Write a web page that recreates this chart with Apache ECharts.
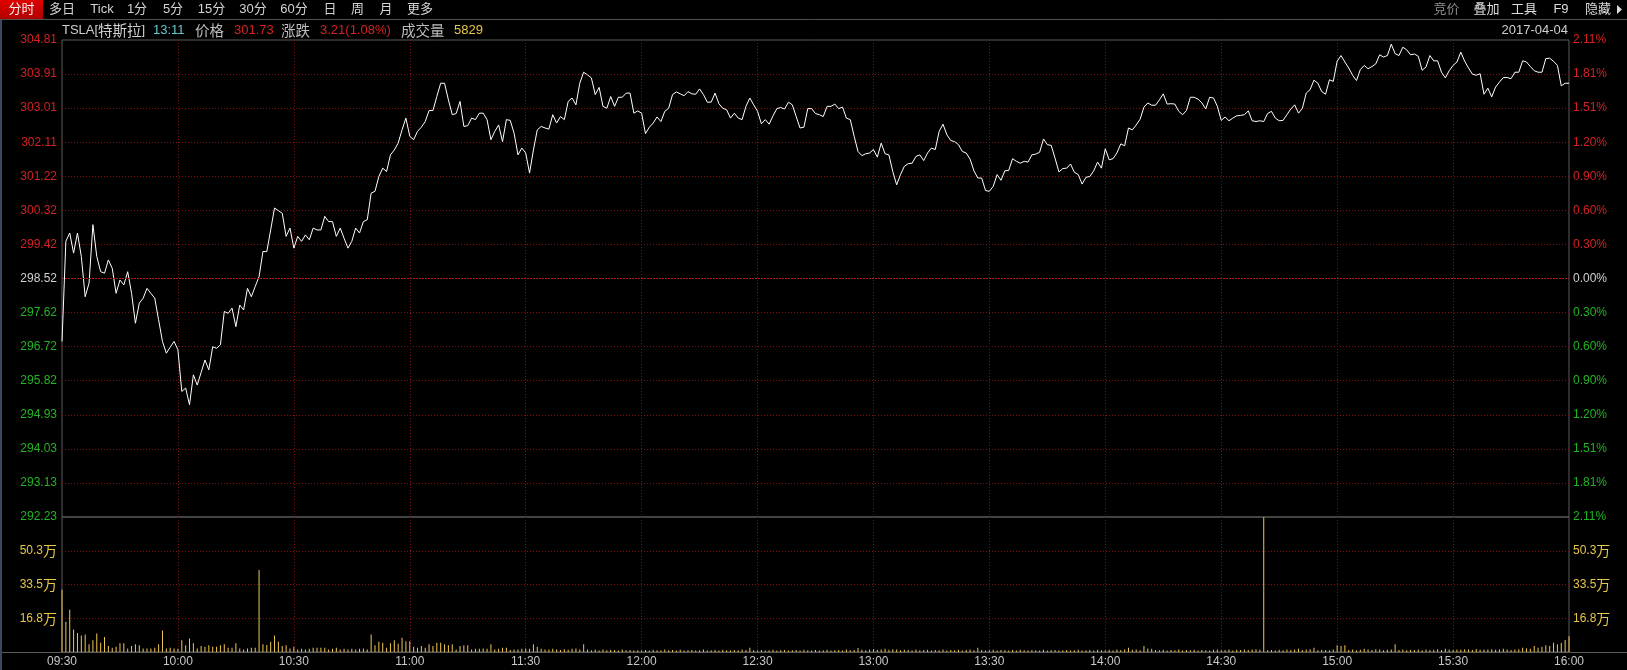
<!DOCTYPE html>
<html>
<head>
<meta charset="utf-8">
<script src="https://cdn.jsdelivr.net/npm/echarts@6/dist/echarts.min.js"></script>
<style>
html,body{margin:0;padding:0;background:#000;}
#c{width:1627px;height:670px;}
</style>
</head>
<body>
<div id="c"></div>
<script>
// ---------------- data ----------------
const prevClose = 298.52;
const priceStep = 0.8985714;          // one grid row of price
const volStep = 16.77;                // 万 per volume grid row

// minute-by-minute price, 09:30 .. 16:00 (391 minutes)
const prices = [
296.86,299.50,299.72,299.19,299.72,299.10,298.04,298.40,299.94,299.10,
298.70,298.66,299.01,298.79,298.13,298.48,298.35,298.70,298.13,297.34,
297.87,298.00,298.26,298.13,298.00,297.43,296.86,296.55,296.71,296.86,
296.64,295.54,295.63,295.19,295.98,295.71,296.04,296.37,296.11,296.72,
296.68,296.77,297.65,297.60,297.74,297.25,297.82,297.69,298.26,298.04,
298.31,298.57,299.23,299.23,299.80,300.38,300.31,300.24,299.63,299.85,
299.32,299.63,299.50,299.67,299.54,299.85,299.80,299.80,300.16,300.02,
300.02,299.63,299.85,299.58,299.32,299.50,299.85,299.72,300.02,300.07,
300.77,300.82,301.21,301.43,301.34,301.78,301.91,302.09,302.44,302.75,
302.27,302.18,302.40,302.51,302.66,302.95,302.95,303.32,303.67,303.67,
303.23,302.84,302.87,303.19,302.53,302.55,302.75,302.71,302.88,302.88,
302.71,302.18,302.40,302.57,302.13,302.71,302.69,302.35,301.78,301.96,
301.83,301.30,301.91,302.44,302.53,302.49,302.46,302.84,302.62,302.79,
302.71,303.19,303.28,303.10,303.67,303.96,303.89,303.81,303.37,303.56,
303.06,303.01,303.32,303.06,303.30,303.30,303.41,303.41,302.88,302.94,
302.88,302.34,302.51,302.62,302.78,302.66,302.93,303.01,303.37,303.44,
303.39,303.34,303.45,303.39,303.38,303.52,303.37,303.17,303.17,303.41,
303.13,303.01,302.97,302.75,302.88,302.75,302.71,303.06,303.28,303.10,
302.93,302.60,302.71,302.59,302.81,303.00,303.03,302.99,303.17,303.10,
302.79,302.49,302.51,303.00,303.00,302.87,302.84,302.79,303.06,303.06,
303.12,303.00,303.04,302.75,302.71,302.27,301.87,301.76,301.81,301.83,
301.92,301.72,302.09,301.81,301.78,301.34,300.99,301.26,301.48,301.55,
301.56,301.74,301.78,301.63,301.83,301.96,301.92,302.40,302.59,302.31,
302.16,302.13,302.05,301.87,301.83,301.67,301.36,301.17,301.17,300.84,
300.82,300.95,301.26,301.11,301.36,301.37,301.68,301.61,301.56,301.61,
301.59,301.78,301.80,301.85,302.20,302.05,302.03,301.69,301.33,301.42,
301.43,301.54,301.32,301.26,301.01,301.19,301.21,301.36,301.59,301.43,
301.94,301.65,301.68,301.83,302.07,302.02,302.49,302.44,302.57,302.72,
303.04,303.15,303.09,303.09,303.23,303.39,303.12,303.13,303.12,302.93,
302.84,302.95,303.30,303.30,303.25,303.15,302.99,303.30,303.28,303.06,
302.69,302.78,302.68,302.75,302.81,302.82,302.84,302.94,302.68,302.66,
302.68,302.66,302.87,302.93,302.75,302.68,302.69,302.84,302.99,303.10,
302.88,303.01,303.41,303.50,303.75,303.67,303.45,303.38,303.76,303.72,
304.25,304.40,304.23,304.07,303.88,303.74,304.03,304.14,304.05,304.11,
304.18,304.42,304.36,304.40,304.70,304.45,304.40,304.62,304.55,304.42,
304.44,304.38,304.01,304.10,304.40,304.26,304.26,303.96,303.81,304.00,
304.14,304.23,304.49,304.25,304.07,303.91,303.88,303.92,303.38,303.54,
303.31,303.57,303.70,303.82,303.82,303.79,303.96,303.96,304.26,304.23,
304.11,304.00,303.96,303.96,304.32,304.33,304.25,304.14,303.60,303.67,
303.67
];

// minute-by-minute volume, in 万 shares
const volumes = [
30.9,15.0,21.0,11.2,9.5,8.2,8.7,3.8,5.9,9.2,
4.6,7.4,3.0,2.1,2.6,4.3,4.3,1.8,3.0,3.8,
3.3,1.8,1.8,1.8,2.1,3.8,10.7,1.8,2.1,1.8,
1.6,5.8,3.3,6.7,4.3,1.8,3.0,2.6,3.3,2.6,
2.6,3.3,3.8,2.1,2.1,4.3,1.8,1.3,1.8,2.1,
2.1,40.8,3.8,3.5,5.1,8.2,5.1,3.0,3.3,1.8,
2.6,1.3,1.6,1.3,1.6,2.1,2.1,2.1,2.1,1.3,
1.6,2.1,1.3,1.6,1.3,1.6,1.3,1.6,1.8,1.3,
8.7,3.3,5.1,4.6,2.1,4.3,5.8,4.1,7.1,5.4,
5.4,2.6,2.1,3.0,2.1,3.8,3.0,4.6,4.6,3.8,
3.3,3.8,1.3,3.0,3.3,3.3,1.3,1.6,1.6,1.8,
1.6,3.8,1.3,1.6,2.1,2.1,1.0,1.3,1.3,1.6,
1.8,1.6,3.8,2.6,1.6,1.3,1.3,1.6,1.2,1.0,
1.4,1.1,1.6,1.8,1.2,3.8,1.3,0.9,1.2,0.8,
1.3,0.9,1.1,1.0,0.8,1.2,0.9,1.0,0.7,0.9,
0.8,1.0,0.7,1.1,0.9,0.8,1.2,0.9,1.0,0.7,
1.1,0.8,0.9,1.0,0.7,0.9,1.2,0.8,0.9,1.0,
0.8,1.1,0.9,0.7,1.0,0.9,1.3,1.0,2.1,0.9,
0.8,1.0,0.7,0.9,1.1,0.8,0.9,1.0,0.7,0.9,
1.0,0.8,1.1,0.9,0.7,1.0,0.8,0.9,1.1,0.7,
0.9,1.0,0.8,1.2,0.9,1.0,2.0,1.1,0.9,1.2,
1.4,1.0,1.3,1.6,1.1,1.4,1.2,0.9,1.1,1.0,
0.8,1.2,0.9,1.0,1.1,0.8,1.0,0.9,1.2,0.8,
1.0,0.9,1.1,0.8,1.0,1.2,0.9,2.1,1.0,0.8,
0.9,1.1,0.8,1.0,0.9,0.7,1.0,0.8,1.1,0.9,
0.8,1.0,0.9,0.7,1.1,0.8,0.9,1.0,0.8,0.9,
1.0,0.8,0.9,1.1,0.7,0.9,1.0,0.8,1.1,0.9,
0.9,1.1,0.8,1.2,1.0,1.3,2.1,1.1,1.2,0.9,
3.0,1.8,1.6,1.0,0.9,1.1,0.8,1.0,0.9,1.2,
0.8,1.0,0.9,1.1,0.8,1.0,0.9,0.8,1.1,1.2,
0.9,1.0,1.2,0.8,1.1,1.0,1.3,1.0,1.2,1.4,
1.1,66.9,0.9,1.0,0.8,1.1,0.9,1.2,1.0,1.3,
1.6,1.0,1.3,1.4,2.1,0.9,1.1,1.0,0.9,1.2,
3.3,3.0,3.3,1.0,1.3,0.9,1.1,1.6,1.2,1.0,
1.4,1.2,0.9,1.1,1.3,3.8,1.0,1.2,0.9,1.1,
1.0,1.3,0.9,1.2,1.0,1.1,1.4,1.0,1.6,1.2,
1.0,1.3,1.1,1.4,1.2,1.0,1.5,1.1,1.3,1.2,
1.4,1.1,1.2,1.6,1.3,1.0,1.2,1.4,2.1,1.8,
1.6,3.0,2.1,2.6,3.3,3.0,4.6,3.8,4.5,6.0,
7.8
];

const priceTickLabels = ['292.23','293.13','294.03','294.93','295.82','296.72','297.62','298.52',
  '299.42','300.32','301.22','302.11','303.01','303.91','304.81'];
const pctTickLabels = ['2.11%','1.81%','1.51%','1.20%','0.90%','0.60%','0.30%','0.00%',
  '0.30%','0.60%','0.90%','1.20%','1.51%','1.81%','2.11%'];
const volTickLabels = ['', '16.8', '33.5', '50.3', ''];
const volUnit = '万';
const timeLabels = ['09:30','10:00','10:30','11:00','11:30','12:00','12:30','13:00',
  '13:30','14:00','14:30','15:00','15:30','16:00'];

const toolbarLeft = ['分时','多日','Tick','1分','5分','15分','30分','60分','日','周','月','更多'];
const toolbarRight = ['竞价','叠加','工具','F9','隐藏'];

// ---------------- chart ----------------
const FONT = '"Liberation Sans", Arial, "Noto Sans CJK SC", sans-serif';
const CJK = '"Noto Sans CJK SC", sans-serif';
const RED = '#d42222', GREEN = '#22b422', WHITE = '#d0d0d0', YELLOW = '#e8c646';
const GRIDC = '#7c1212';

function priceIdx(v){ return Math.round(parseFloat(v) / priceStep) + 7; }
function priceColor(v){ const i = priceIdx(v); return i > 7 ? RED : (i < 7 ? GREEN : WHITE); }

const chart = echarts.init(document.getElementById('c'), null, {renderer:'canvas'});

const splitX = {show:true, showMinLine:false, showMaxLine:false,
  lineStyle:{color:GRIDC, type:[1,2], width:1}};
const splitY = {show:true, showMinLine:false, showMaxLine:false,
  lineStyle:{color:GRIDC, type:[1,2], width:1}};

const leftToolbarX = [21.5, 62, 102, 137, 173, 211.5, 253, 294, 330, 357.5, 386, 420];
const rightToolbarX = [1446.5, 1486.5, 1524, 1561, 1598];

const graphics = [];
graphics.push({type:'rect', shape:{x:0,y:0,width:43,height:19},
  style:{fill:new echarts.graphic.LinearGradient(0,0,0,1,[{offset:0,color:'#e00000'},{offset:1,color:'#b00000'}])}});
toolbarLeft.forEach((t,i)=>{
  graphics.push({type:'text', x:leftToolbarX[i], y:9.5,
    style:{text:t, fill: i===0 ? '#f0f0f0' : '#d4d4d4', font:'13px '+FONT, align:'center', verticalAlign:'middle'}});
});
toolbarRight.forEach((t,i)=>{
  graphics.push({type:'text', x:rightToolbarX[i], y:9.5,
    style:{text:t, fill: i===0 ? '#8c8c8c' : '#dcdcdc', font:'13px '+FONT, align:'center', verticalAlign:'middle'}});
});
graphics.push({type:'polygon', shape:{points:[[1617,5],[1617,14],[1622,9.5]]}, style:{fill:'#dcdcdc'}});
graphics.push({type:'line', shape:{x1:0,y1:19.5,x2:1627,y2:19.5}, style:{stroke:'#505050', lineWidth:1}});

// info row: [latin part, cjk part, trailing latin, x, colour]
const infoRow = [
  ['TSLA[', '特斯拉', ']', 62, '#cfcfcf'],
  ['13:11', '', '', 153, '#62c8d0'],
  ['', '价格', '', 195, '#bdbdbd'],
  ['301.73', '', '', 234, RED],
  ['', '涨跌', '', 281, '#bdbdbd'],
  ['3.21(1.08%)', '', '', 320, RED],
  ['', '成交量', '', 401, '#bdbdbd'],
  ['5829', '', '', 454, YELLOW]
];
infoRow.forEach(r=>{
  let txt = '';
  if (r[0]) txt += '{a|' + r[0] + '}';
  if (r[1]) txt += '{b|' + r[1] + '}';
  if (r[2]) txt += '{a|' + r[2] + '}';
  graphics.push({type:'text', x:r[3], y:30,
    style:{text:txt, fill:r[4], align:'left', verticalAlign:'middle',
      rich:{a:{fontSize:13, fontFamily:FONT, fill:r[4]}, b:{fontSize:14.5, fontFamily:CJK, fill:r[4]}}}});
});
graphics.push({type:'text', x:1568, y:30,
  style:{text:'2017-04-04', fill:'#cfcfcf', font:'13px '+FONT, align:'right', verticalAlign:'middle'}});
graphics.push({type:'line', shape:{x1:0,y1:652.5,x2:1627,y2:652.5}, style:{stroke:'#5a5a5a', lineWidth:1}});
graphics.push({type:'rect', shape:{x:0,y:20,width:2,height:650}, style:{fill:'#3a4862'}});

const volRich = {n:{fontSize:12, fontFamily:FONT, color:YELLOW}, w:{fontSize:14, fontFamily:CJK, color:YELLOW}};
function volFmt(v){
  const s = volTickLabels[Math.round(v/volStep)];
  return s ? '{n|' + s + '}{w|' + volUnit + '}' : '';
}

const option = {
  backgroundColor:'#000',
  animation:false,
  textStyle:{fontFamily:FONT},
  graphic: graphics,
  grid:[
    {left:62, right:58, top:40, height:477, show:true, borderColor:'#5a5a5a', borderWidth:1, backgroundColor:'transparent'},
    {left:62, right:58, top:517, height:135, show:true, borderColor:'#5a5a5a', borderWidth:1, backgroundColor:'transparent'}
  ],
  xAxis:[
    {type:'value', gridIndex:0, min:0, max:390, interval:30,
      axisLine:{show:false}, axisTick:{show:false}, axisLabel:{show:false}, splitLine:splitX},
    {type:'value', gridIndex:1, min:0, max:390, interval:30,
      axisLine:{show:false}, axisTick:{show:false}, splitLine:splitX,
      axisLabel:{show:true, showMinLabel:true, showMaxLabel:true, margin:4, color:'#c8c8c8', fontSize:12, fontFamily:FONT,
        formatter:(v)=> timeLabels[Math.round(v/30)]}}
  ],
  yAxis:[
    {type:'value', gridIndex:0, position:'left', min:-7*priceStep, max:7*priceStep, interval:priceStep,
      axisLine:{show:false}, axisTick:{show:false}, splitLine:splitY,
      axisLabel:{show:true, showMinLabel:true, showMaxLabel:true, margin:5, fontSize:12, fontFamily:FONT,
        formatter:(v)=> priceTickLabels[priceIdx(v)], color:(v)=> priceColor(v)}},
    {type:'value', gridIndex:0, position:'right', min:-7*priceStep, max:7*priceStep, interval:priceStep,
      axisLine:{show:false}, axisTick:{show:false}, splitLine:{show:false},
      axisLabel:{show:true, showMinLabel:true, showMaxLabel:true, margin:4, fontSize:12, fontFamily:FONT,
        formatter:(v)=> pctTickLabels[priceIdx(v)], color:(v)=> priceColor(v)}},
    {type:'value', gridIndex:1, position:'left', min:0, max:4*volStep, interval:volStep,
      axisLine:{show:false}, axisTick:{show:false}, splitLine:splitY,
      axisLabel:{show:true, margin:5, color:YELLOW, formatter:volFmt, rich:volRich}},
    {type:'value', gridIndex:1, position:'right', min:0, max:4*volStep, interval:volStep,
      axisLine:{show:false}, axisTick:{show:false}, splitLine:{show:false},
      axisLabel:{show:true, margin:4, color:YELLOW, formatter:volFmt, rich:volRich}}
  ],
  series:[
    {type:'line', xAxisIndex:0, yAxisIndex:0, showSymbol:false, symbol:'none',
      lineStyle:{color:'#ffffff', width:1}, clip:true,
      data: prices.map((p,i)=>[i, p - prevClose]),
      markLine:{silent:true, symbol:'none', label:{show:false},
        lineStyle:{color:'#b81818', type:[2,1], width:1},
        data:[{yAxis:0}]}},
    {type:'bar', xAxisIndex:1, yAxisIndex:2, barWidth:1,
      itemStyle:{color:'#f0c850'},
      data: volumes.map((v,i)=>[i, v])}
  ]
};
chart.setOption(option);
</script>
</body>
</html>
